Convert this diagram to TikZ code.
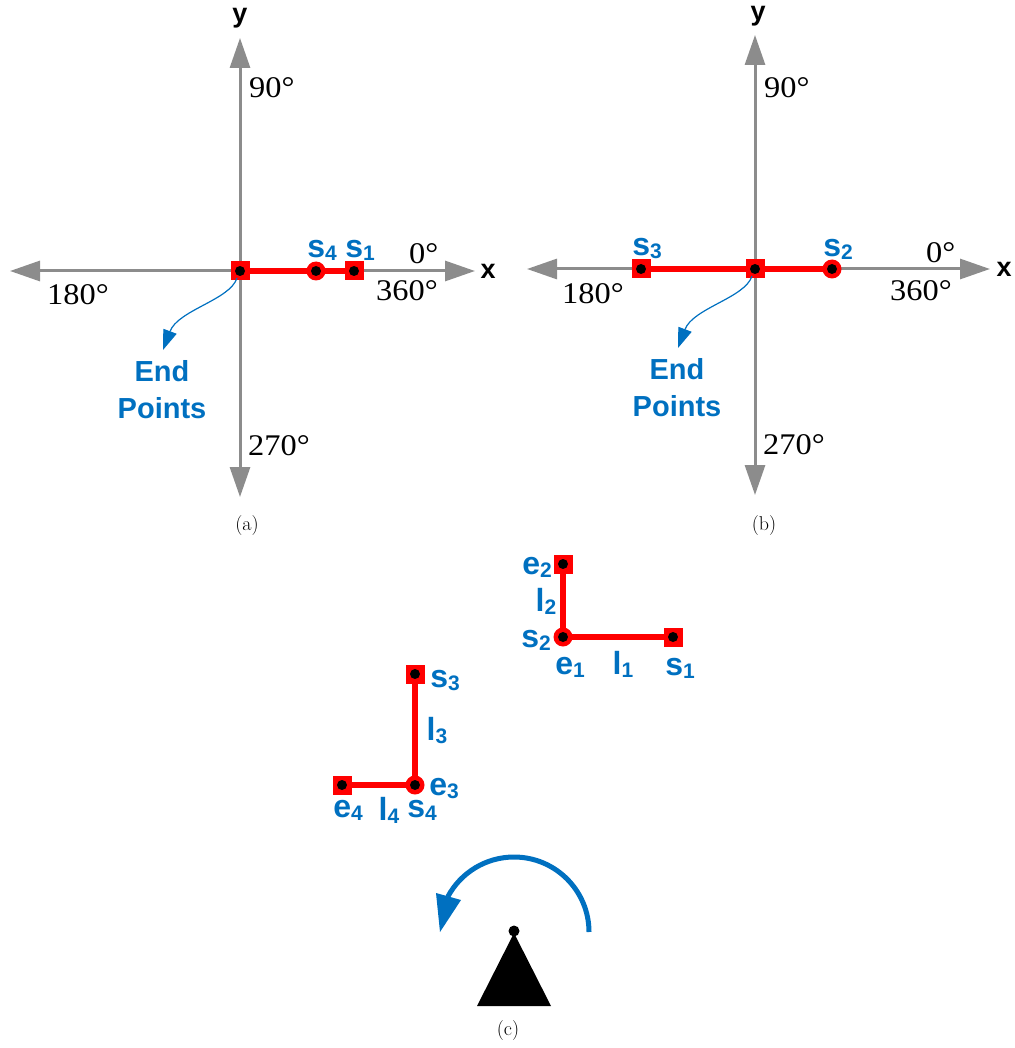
\documentclass[tikz,border=0pt]{standalone}
\usepackage{fontspec}
\newfontfamily\lsans{Liberation Sans}
\newfontfamily\lserif{Liberation Serif}[FakeStretch=1.08]
\usetikzlibrary{arrows.meta}
\definecolor{axgray}{RGB}{140,140,140}
\definecolor{lblue}{RGB}{0,112,192}
\newcommand\lsub[2]{#1\raisebox{-3pt}{\fontsize{21}{21}\selectfont #2}}
\begin{document}
\begin{tikzpicture}[x=1pt,y=-1pt,
 axis/.style={draw=axgray, line width=3pt, {Triangle[length=30pt,width=20pt]}-{Triangle[length=30pt,width=20pt]}},
 seg/.style={draw=red, line width=5.5pt},
 sq/.style={rectangle, fill=red, minimum size=19pt, inner sep=0pt,
   path picture={\fill[black] (path picture bounding box.center) circle (5pt);}},
 cir/.style={circle, fill=red, minimum size=19pt, inner sep=0pt,
   path picture={\fill[black] (path picture bounding box.center) circle (5pt);}},
 lab/.style={text=lblue, font=\lsans\bfseries\fontsize{32}{32}\selectfont, inner sep=0pt},
 deg/.style={font=\lserif\fontsize{30}{30}\selectfont, inner sep=0pt, anchor=base west},
 axl/.style={font=\lsans\bfseries\fontsize{27}{27}\selectfont, inner sep=0pt},
 captxt/.style={font=\fontsize{20}{20}\selectfont, inner sep=0pt},
 endp/.style={text=lblue, font=\lsans\bfseries\fontsize{29}{37}\selectfont, align=center, inner sep=0pt},
 thinarr/.style={draw=lblue, line width=1.2pt, -{Triangle[length=20pt,width=14pt]}}
]
\useasboundingbox (0,0) rectangle (1014,1048);

% ---------- panel (a)
\coordinate (aL) at (10,271);
\coordinate (aR) at (475,271);
\coordinate (aT) at (240,38);
\coordinate (aB) at (240,497);
\draw[axis] (aL) -- (aR);
\draw[axis] (aT) -- (aB);
\coordinate (aO) at (240,271);
\coordinate (aP4) at (316,271);
\coordinate (aP1) at (354,271);
\draw[seg] (aO) -- (aP1);
\node[sq] (ao) at (aO) {};
\node[cir] (a4) at (aP4) {};
\node[sq] (a1) at (aP1) {};
\node[lab] (as4) at (322,250) {\lsub{s}{4}};
\node[lab] (as1) at (360,250) {\lsub{s}{1}};
\node[axl] (ay) at (240,18) {y};
\node[axl] (ax) at (488,271) {x};
\node[deg] (a90) at (249,98) {90°};
\node[deg] (a0) at (409,264) {0°};
\node[deg] (a360) at (376,300) {360°};
\node[deg] (a180) at (47,304) {180°};
\node[deg] (a270) at (248,455) {270°};
\node[endp] (aend) at (162,390) {End\\Points};
\coordinate (aTip) at (163,350);
\draw[thinarr] ([shift={(-3,7)}]ao.center) .. controls (230,300) and (178,310) .. (aTip);
\node[captxt] (capa) at (247,526) {(a)};

% ---------- panel (b)
\coordinate (bL) at (527,269);
\coordinate (bR) at (990,269);
\coordinate (bT) at (755,35);
\coordinate (bB) at (755,495);
\draw[axis] (bL) -- (bR);
\draw[axis] (bT) -- (bB);
\coordinate (bO) at (755,269);
\coordinate (bP3) at (641,269);
\coordinate (bP2) at (832,269);
\draw[seg] (bP3) -- (bP2);
\node[sq] (bo) at (bO) {};
\node[sq] (b3) at (bP3) {};
\node[cir] (b2) at (bP2) {};
\node[lab] (bs3) at (647,249) {\lsub{s}{3}};
\node[lab] (bs2) at (838,249) {\lsub{s}{2}};
\node[axl] (by) at (758,16) {y};
\node[axl] (bx) at (1004,269) {x};
\node[deg] (b90) at (764,98) {90°};
\node[deg] (b0) at (926,263) {0°};
\node[deg] (b360) at (890,300) {360°};
\node[deg] (b180) at (562,303) {180°};
\node[deg] (b270) at (763,454) {270°};
\node[endp] (bendp) at (677,388) {End\\Points};
\coordinate (bTip) at (678,348);
\draw[thinarr] ([shift={(-3,7)}]bo.center) .. controls (745,298) and (693,308) .. (bTip);
\node[captxt] (capb) at (764,526) {(b)};

% ---------- panel (c)
\coordinate (cE2) at (563,564);
\coordinate (cS2) at (563,637);
\coordinate (cS1) at (673,637);
\draw[seg] (cE2) -- (cS2) -- (cS1);
\node[sq] (ce2) at (cE2) {};
\node[cir] (cs2) at (cS2) {};
\node[sq] (cs1) at (cS1) {};
\node[lab] (le2) at (537,567) {\lsub{e}{2}};
\node[lab] (ll2) at (546,601) {\lsub{l}{2}};
\node[lab] (ls2) at (536,640) {\lsub{s}{2}};
\node[lab] (le1) at (570,667) {\lsub{e}{1}};
\node[lab] (ll1) at (623,664) {\lsub{l}{1}};
\node[lab] (ls1) at (680,668) {\lsub{s}{1}};

\coordinate (cS3) at (415,674);
\coordinate (cS4) at (415,785);
\coordinate (cE4) at (342,785);
\draw[seg] (cS3) -- (cS4) -- (cE4);
\node[sq] (cs3) at (cS3) {};
\node[cir] (cs4) at (cS4) {};
\node[sq] (ce4) at (cE4) {};
\node[lab] (ls3) at (445,680) {\lsub{s}{3}};
\node[lab] (ll3) at (437,731) {\lsub{l}{3}};
\node[lab] (le3) at (444,788) {\lsub{e}{3}};
\node[lab] (le4) at (348,810) {\lsub{e}{4}};
\node[lab] (ll4) at (389,810) {\lsub{l}{4}};
\node[lab] (ls4) at (422,810) {\lsub{s}{4}};

% robot
\fill[black] (477,1006) -- (514,933) -- (551,1006) -- cycle;
\fill[black] (514,931) circle (5.5);
\draw[lblue, line width=5pt] (589,932) arc[start angle=0, end angle=-152, radius=75];
\fill[lblue] (436,893) -- (461,900) -- (440,932) -- cycle;
\node[captxt] (capc) at (508,1030) {(c)};
\end{tikzpicture}
\end{document}
